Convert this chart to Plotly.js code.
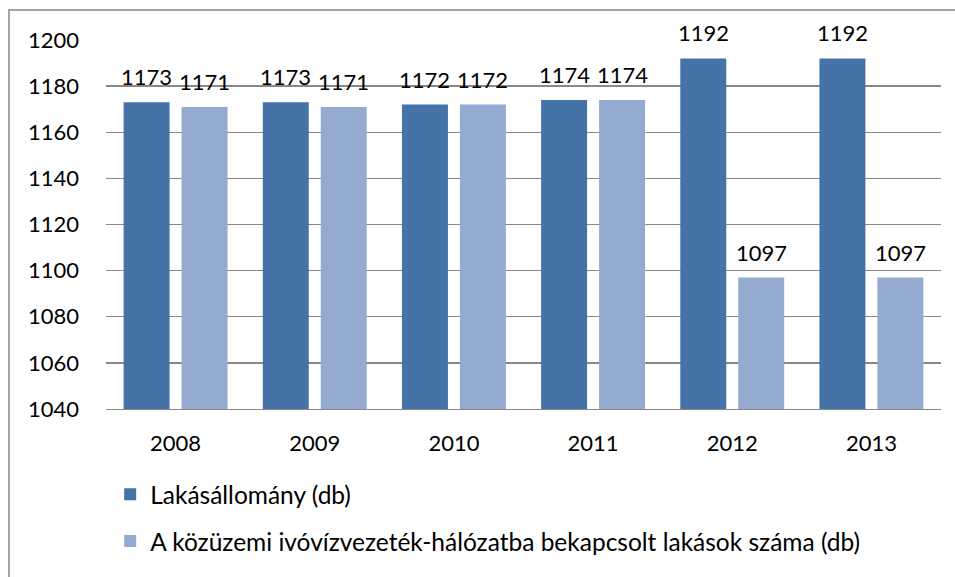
<!DOCTYPE html>
<html><head><meta charset="utf-8">
<script src="https://cdn.plot.ly/plotly-3.0.1.min.js"></script>
<style>html,body{margin:0;padding:0;background:#fff}#c{width:955px;height:577px}</style>
</head><body><div id="c"></div>
<script>
const years = ['2008','2009','2010','2011','2012','2013'];
const lakasallomany = [1173,1173,1172,1174,1192,1192];
const bekapcsolt = [1171,1171,1172,1174,1097,1097];
const seriesNames = ['Lakásállomány (db)','A közüzemi ivóvízvezeték-hálózatba bekapcsolt lakások száma (db)'];
const colors = ['#4572A7','#95AAD1'];
const FONT = 'Lato, "Open Sans", sans-serif';

const traces = [lakasallomany, bekapcsolt].map((v,i)=>({
  type:'bar', x:years, y:v, name:seriesNames[i], legendgroup:'g'+i,
  marker:{color:colors[i]}, hoverinfo:'none'
}));

const annotations = [];
[lakasallomany, bekapcsolt].forEach((v,i)=>{
  v.forEach((val,j)=>annotations.push({
    x:j, y:val, xref:'x', yref:'y', text:String(val), showarrow:false,
    xshift: i===0 ? -29 : 29, yanchor:'bottom', yshift:10,
    font:{family:FONT,size:22,color:'#000'}
  }));
});

const layout = {
  width:955, height:577,
  margin:{l:106,r:14,t:40,b:168},
  paper_bgcolor:'#fff', plot_bgcolor:'#fff',
  font:{family:FONT,size:22,color:'#000'},
  barmode:'group', bargap:0.167, bargroupgap:0.207,
  xaxis:{type:'category', range:[-0.5,5.5], showgrid:false, showline:true, linecolor:'#888', linewidth:1.3,
    ticks:'', ticklabelstandoff:14, tickfont:{family:FONT,size:22,color:'#000'}},
  yaxis:{range:[1040,1200], dtick:20, tick0:1040, showgrid:true, gridcolor:'#888', gridwidth:1.3,
    zeroline:false, showline:false, ticks:'', ticklabelstandoff:26,
    tickfont:{family:FONT,size:22,color:'#000'}},
  showlegend:true,
  legend:{orientation:'v', x:0.005, xanchor:'left', y:-0.17, yanchor:'top',
    font:{family:FONT,size:24.5,color:'#000'}, tracegroupgap:12, traceorder:'grouped',
    bgcolor:'rgba(0,0,0,0)'},
  annotations:annotations,
  shapes:[{type:'rect', xref:'paper', yref:'paper', x0:-0.1162, x1:1.03, y0:-0.47, y1:1.0813,
    line:{color:'#888',width:1.5}, fillcolor:'rgba(0,0,0,0)', layer:'below'}]
};
Plotly.newPlot('c', traces, layout, {displayModeBar:false, staticPlot:true});
</script></body></html>
